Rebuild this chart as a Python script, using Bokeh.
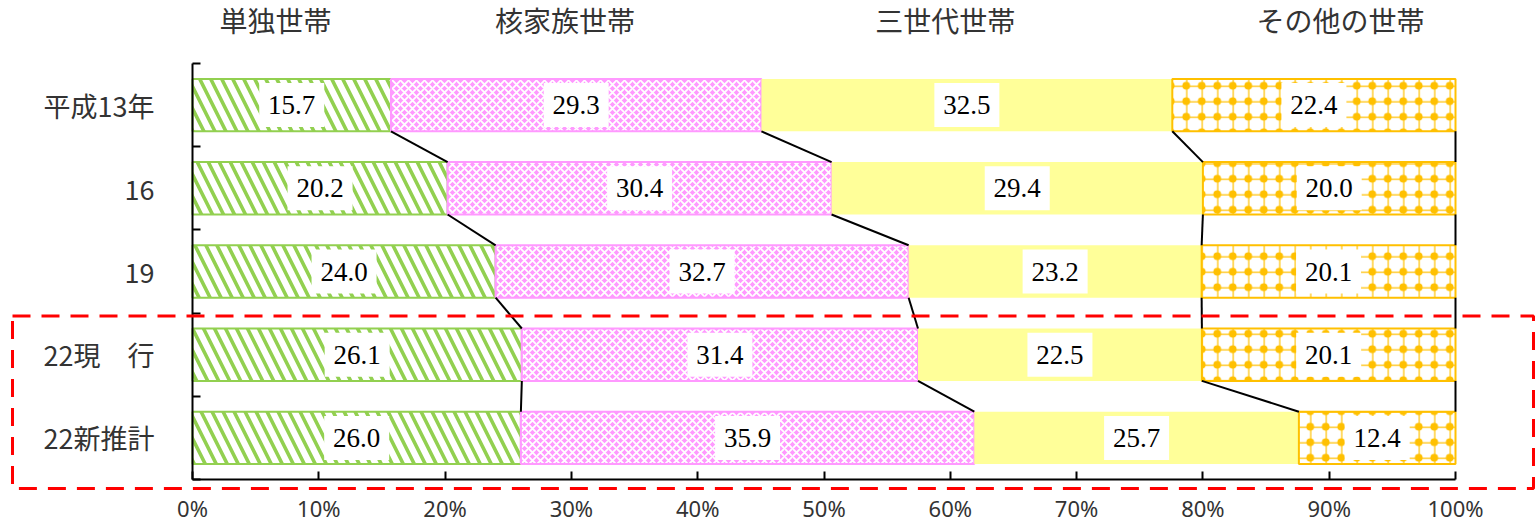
from bokeh.plotting import figure
from bokeh.models import Range1d, FixedTicker, BoxAnnotation, Label
from bokeh.core.properties import value
from bokeh.embed import file_html
from bokeh.resources import INLINE
import numpy as np

# ---------------- data ----------------
categories = ["平成13年", "16", "19", "22現　行", "22新推計"]
series_names = ["単独世帯", "核家族世帯", "三世代世帯", "その他の世帯"]
single = [15.7, 20.2, 24.0, 26.1, 26.0]
nuclear = [29.3, 30.4, 32.7, 31.4, 35.9]
three_gen = [32.5, 29.4, 23.2, 22.5, 25.7]
other = [22.4, 20.0, 20.1, 20.1, 12.4]
x_ticks = [0, 10, 20, 30, 40, 50, 60, 70, 80, 90, 100]
x_tick_labels = ["0%", "10%", "20%", "30%", "40%", "50%", "60%", "70%", "80%", "90%", "100%"]
highlighted = ["22現　行", "22新推計"]

# ---------------- layout / style ----------------
W, H = 1538, 521
AX_L, AX_R, AX_T, AX_B = 192, 1455, 63, 479   # px positions of 0%, 100%, top and bottom of category axis
BAR_H = 0.63
JP = "Noto Sans CJK JP"
NUM = "Liberation Serif"
header_x = [6.57, 29.5, 59.6, 90.9]
ORANGE = "#FFC000"
GREEN = "#92D050"
PINK = "#FF99FF"

n = len(categories)
ys = np.array([n - i - 0.5 for i in range(n)])
vals = np.array([single, nuclear, three_gen, other], dtype=float)
vals = vals / vals.sum(axis=0) * 100.0   # 100% stacked
cum = np.cumsum(vals, axis=0)
lefts = cum - vals

# the frame fills the whole canvas; axes are drawn at fixed locations
sx = (AX_R - AX_L) / 100.0
sy = (AX_B - AX_T) / n
x_range = Range1d(-AX_L / sx, 100 + (W - AX_R) / sx)
y_range = Range1d(-(H - AX_B) / sy, n + AX_T / sy)

p = figure(width=W, height=H, output_backend="svg", toolbar_location=None,
           x_range=x_range, y_range=y_range,
           min_border=0, min_border_left=0, min_border_right=0,
           min_border_top=0, min_border_bottom=0)
p.outline_line_color = None
p.grid.visible = False
p.background_fill_color = "white"
p.border_fill_color = "white"

# bars
p.hbar(y=ys, left=lefts[0], right=cum[0], height=BAR_H, fill_color="white",
       line_color=GREEN, line_width=2, hatch_pattern="left_diagonal_line",
       hatch_color=GREEN, hatch_scale=22, hatch_weight=3.6)
p.hbar(y=ys, left=lefts[1], right=cum[1], height=BAR_H, fill_color=PINK,
       line_color=PINK, line_width=2, hatch_pattern="diagonal_cross",
       hatch_color="white", hatch_scale=8, hatch_weight=1.9)
p.hbar(y=ys, left=lefts[2], right=cum[2], height=BAR_H, fill_color="#FFFF99", line_color=None)
p.hbar(y=ys, left=lefts[3], right=cum[3], height=BAR_H, fill_color="white",
       line_color=ORANGE, line_width=2, hatch_pattern="cross",
       hatch_color=ORANGE, hatch_scale=15.5, hatch_weight=1.2)
p.hbar(y=ys, left=lefts[3], right=cum[3], height=BAR_H, fill_color=None,
       line_color=None, hatch_pattern="dot",
       hatch_color=ORANGE, hatch_scale=15.5, hatch_weight=6)

# connector (series) lines
x0s, y0s, x1s, y1s = [], [], [], []
for k in range(4):
    for i in range(n - 1):
        x0s.append(cum[k][i]); y0s.append(ys[i] - BAR_H / 2)
        x1s.append(cum[k][i + 1]); y1s.append(ys[i + 1] + BAR_H / 2)
p.segment(x0=x0s, y0=y0s, x1=x1s, y1=y1s, line_color="black", line_width=2)

# data labels
cx = (lefts + cum) / 2
lx = cx.flatten()
ly = np.tile(ys, 4)
raw = np.array([single, nuclear, three_gen, other], dtype=float).flatten()
p.rect(x=lx, y=ly, width=65, height=44, width_units="screen", height_units="screen",
       fill_color="white", line_color=None)
p.text(x=lx, y=ly, text=[f"{v:.1f}" for v in raw], text_font=value(NUM),
       text_font_size="27px", text_align="center", text_baseline="middle", text_color="black")

# axes (fixed at x=0 and y=0)
p.xaxis.fixed_location = 0
p.xaxis.bounds = (0, 100)
p.xaxis.ticker = FixedTicker(ticks=x_ticks)
p.xaxis.major_label_overrides = {t: l for t, l in zip(x_ticks, x_tick_labels)}
p.xaxis.major_tick_in = 8
p.xaxis.major_tick_out = 0
p.xaxis.minor_tick_line_color = None
p.xaxis.axis_line_width = 2
p.xaxis.major_tick_line_width = 2
p.xaxis.axis_line_color = "black"
p.xaxis.major_tick_line_color = "black"
p.xaxis.major_label_text_font = "Noto Sans"
p.xaxis.major_label_text_font_size = "22px"
p.xaxis.major_label_text_color = "#333333"
p.xaxis.major_label_standoff = 13

p.yaxis.fixed_location = 0
p.yaxis.bounds = (0, n)
p.yaxis.ticker = FixedTicker(ticks=list(ys), minor_ticks=list(range(n + 1)))
p.yaxis.major_label_overrides = {float(y): c for y, c in zip(ys, categories)}
p.yaxis.major_tick_in = 0
p.yaxis.major_tick_out = 0
p.yaxis.minor_tick_in = 8
p.yaxis.minor_tick_out = 0
p.yaxis.minor_tick_line_color = "black"
p.yaxis.minor_tick_line_width = 2
p.yaxis.axis_line_width = 2
p.yaxis.axis_line_color = "black"
p.yaxis.major_label_text_font = JP
p.yaxis.major_label_text_font_size = "27px"
p.yaxis.major_label_text_color = "#333333"
p.yaxis.major_label_standoff = 38

# header labels above the columns
for name, hx in zip(series_names, header_x):
    p.add_layout(Label(x=hx, y=n + (AX_T - 19) / sy, text=name, text_font=JP,
                       text_font_size="28px", text_align="center", text_baseline="middle",
                       text_color="#333333"))

# red dashed highlight box around the 22 rows
hi_idx = [categories.index(c) for c in highlighted]
box_top = ys[min(hi_idx)] + 0.5 - 3 / sy
box_bottom = ys[max(hi_idx)] - 0.5 - 9 / sy
p.add_layout(BoxAnnotation(left=(12 - AX_L) / sx, right=(1533 - AX_L) / sx,
                           top=box_top, bottom=box_bottom,
                           fill_alpha=0, fill_color=None, line_color="red", line_alpha=1,
                           line_width=3, line_dash="18 11"))

open("out.html", "w").write(file_html(p, INLINE))
